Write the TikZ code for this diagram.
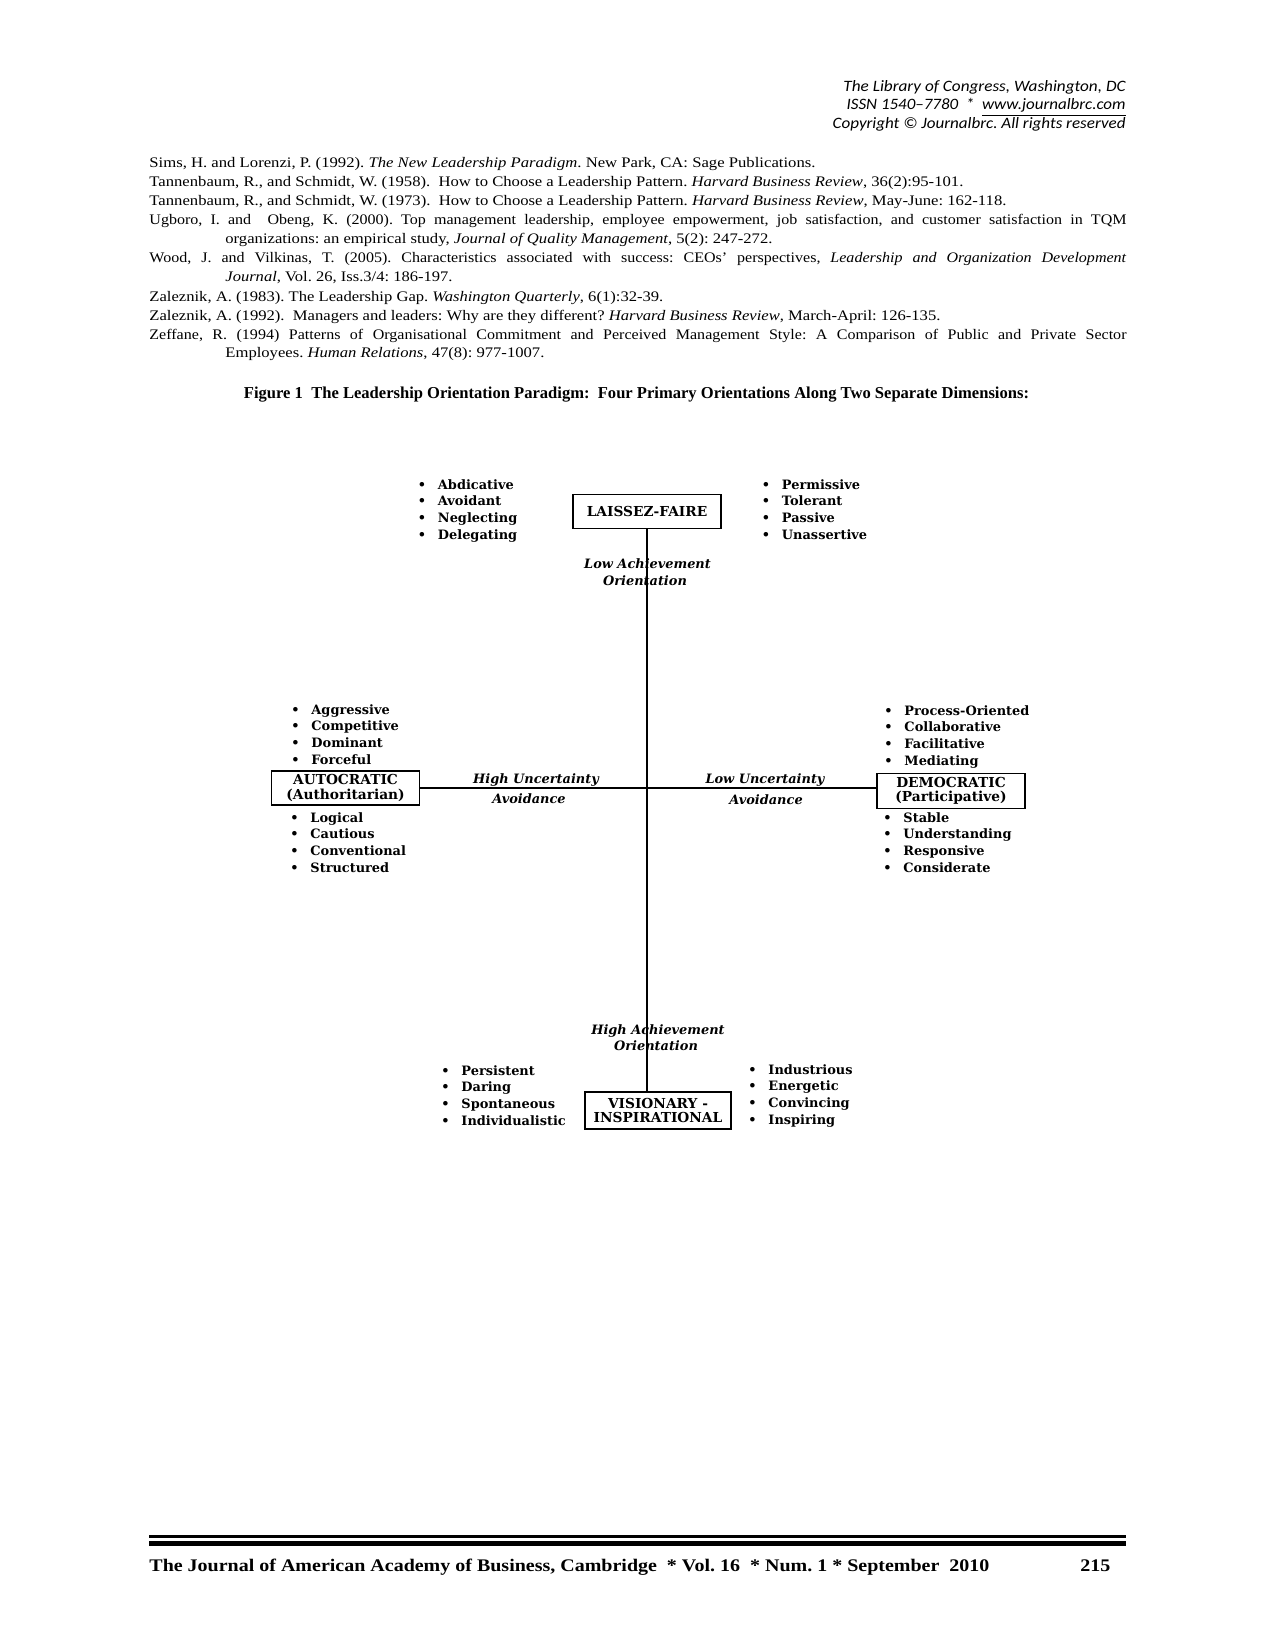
\documentclass[tikz,border=0pt]{standalone}
\usepackage{graphicx}
\usepackage{fontspec}
\setmainfont{Liberation Serif}
\newfontfamily\reff[FakeStretch=1.1]{Liberation Serif}
\newfontfamily\hdr{Carlito}
\newfontfamily\dia{DejaVu Serif}
\newcommand\fitw[2]{\resizebox{#1}{\height}{#2}}
\newcommand\blist[4]{\foreach \itm [count=\i] in {#4}{\node[item] (#1\i) at (#2,{#3+16.8*(\i-1)}) {\makebox[0pt]{\textbullet}\hspace{7.7pt}\itm};}}
\frenchspacing
\begin{document}
\begin{tikzpicture}[x=0.48pt,y=-0.48pt,
  reftxt/.style={anchor=base west, inner sep=0, font=\reff\fontsize{7}{8}\selectfont\frenchspacing},
  hdrtxt/.style={anchor=base east, inner sep=0, font=\hdr\itshape\fontsize{7.6}{8}\selectfont},
  item/.style={anchor=base west, inner sep=0, font=\dia\bfseries\fontsize{6.2}{7}\selectfont},
  axl/.style={anchor=base, inner sep=0, font=\dia\bfseries\itshape\fontsize{6.2}{7}\selectfont},
  lbox/.style={draw, line width=0.6pt, inner sep=0, align=center, font=\dia\bfseries\fontsize{6.6}{7}\selectfont},
  axis/.style={line width=0.6pt}]
\useasboundingbox[fill=white] (0,0) rectangle (1275,1650);

% header
\node[hdrtxt] (h1) at (1126,92) {\fitw{135.4pt}{The Library of Congress, Washington, DC}};
\node[hdrtxt] (h2) at (1126,110) {\fitw{133.9pt}{ISSN 1540–7780~ *~ \underline{www.journalbrc.com}}};
\node[hdrtxt] (h3) at (1126,129) {\fitw{140.6pt}{Copyright © Journalbrc. All rights reserved}};

% references
\node[reftxt] (r1) at (149,168) {\fitw{319.7pt}{Sims, H. and Lorenzi, P. (1992). \textit{The New Leadership Paradigm}. New Park, CA: Sage Publications.}};
\node[reftxt] (r2) at (149,187) {\fitw{390.7pt}{Tannenbaum, R., and Schmidt, W. (1958).~ How to Choose a Leadership Pattern. \textit{Harvard Business Review}, 36(2):95-101.}};
\node[reftxt] (r3) at (149,206) {\fitw{411.4pt}{Tannenbaum, R., and Schmidt, W. (1973).~ How to Choose a Leadership Pattern. \textit{Harvard Business Review}, May-June: 162-118.}};
\node[reftxt] (r4) at (149,225) {\makebox[469pt][s]{Ugboro, I. and~ Obeng, K. (2000). Top management leadership, employee empowerment, job satisfaction, and customer satisfaction in TQM}};
\node[reftxt] (r5) at (225,244) {\fitw{262.6pt}{organizations: an empirical study, \textit{Journal of Quality Management}, 5(2): 247-272.}};
\node[reftxt] (r6) at (149,263) {\makebox[469pt][s]{Wood, J. and Vilkinas, T. (2005). Characteristics associated with success: CEOs’ perspectives, \textit{Leadership and Organization Development}}};
\node[reftxt] (r7) at (225,282) {\fitw{109pt}{\textit{Journal}, Vol. 26, Iss.3/4: 186-197.}};
\node[reftxt] (r8) at (149,302) {\fitw{246.7pt}{Zaleznik, A. (1983). The Leadership Gap. \textit{Washington Quarterly}, 6(1):32-39.}};
\node[reftxt] (r9) at (149,321) {\fitw{379.7pt}{Zaleznik, A. (1992).~ Managers and leaders: Why are they different? \textit{Harvard Business Review}, March-April: 126-135.}};
\node[reftxt] (r10) at (149,339.5) {\makebox[469pt][s]{Zeffane, R. (1994) Patterns of Organisational Commitment and Perceived Management Style: A Comparison of Public and Private Sector}};
\node[reftxt] (r11) at (225,358) {\fitw{153.1pt}{Employees. \textit{Human Relations}, 47(8): 977-1007.}};

% caption
\node[anchor=base, inner sep=0, font=\bfseries\fontsize{8}{9}\selectfont] (cap) at (636.5,399) {\fitw{376.8pt}{Figure 1~ The Leadership Orientation Paradigm:~ Four Primary Orientations Along Two Separate Dimensions:}};

% boxes
\node[lbox, minimum width=71pt, minimum height=16pt] (lf) at (647,511.5) {LAISSEZ-FAIRE};
\node[lbox, minimum width=71pt, minimum height=16.3pt] (au) at (345.5,788) {AUTOCRATIC\\(Authoritarian)};
\node[lbox, minimum width=71pt, minimum height=16.8pt] (de) at (951,791) {DEMOCRATIC\\(Participative)};
\node[lbox, minimum width=70pt, minimum height=17.8pt] (vis) at (658,1110.5) {VISIONARY -\\INSPIRATIONAL};

% axes
\draw[axis] (lf.south) -- (lf.south |- vis.north);
\draw[axis] (au.east) -- (au.east -| de.west);

% axis labels
\node[axl] (la1) at (647.5,568) {Low Achievement};
\node[axl] (la2) at (645,585) {Orientation};
\node[axl] (hu1) at (536,783) {High Uncertainty};
\node[axl] (hu2) at (529,803) {Avoidance};
\node[axl] (lu1) at (765,783) {Low Uncertainty};
\node[axl] (lu2) at (766,804) {Avoidance};
\node[axl] (ha1) at (658,1034) {High Achievement};
\node[axl] (ha2) at (656,1050) {Orientation};

% bullet lists
\blist{tl}{421.5}{489}{Abdicative,Avoidant,Neglecting,Delegating}
\blist{tr}{765.5}{489}{Permissive,Tolerant,Passive,Unassertive}
\blist{aup}{295}{714}{Aggressive,Competitive,Dominant,Forceful}
\blist{alo}{294}{822}{Logical,Cautious,Conventional,Structured}
\blist{dup}{888}{715}{Process-Oriented,Collaborative,Facilitative,Mediating}
\blist{dlo}{887}{822}{Stable,Understanding,Responsive,Considerate}
\blist{vl}{445}{1075}{Persistent,Daring,Spontaneous,Individualistic}
\blist{vr}{752}{1074}{Industrious,Energetic,Convincing,Inspiring}

% footer
\fill (149,1535) rectangle (1126,1538);
\fill (149,1541) rectangle (1126,1546);
\node[anchor=base west, inner sep=0, font=\bfseries\fontsize{8.5}{9}\selectfont] (ft) at (149,1571) {\fitw{403.2pt}{The Journal of American Academy of Business, Cambridge~ * Vol. 16~ * Num. 1 * September~ 2010}};
\node[anchor=base west, inner sep=0, font=\bfseries\fontsize{8.5}{9}\selectfont] (pg) at (1080,1571) {\fitw{14.4pt}{215}};
\end{tikzpicture}
\end{document}
